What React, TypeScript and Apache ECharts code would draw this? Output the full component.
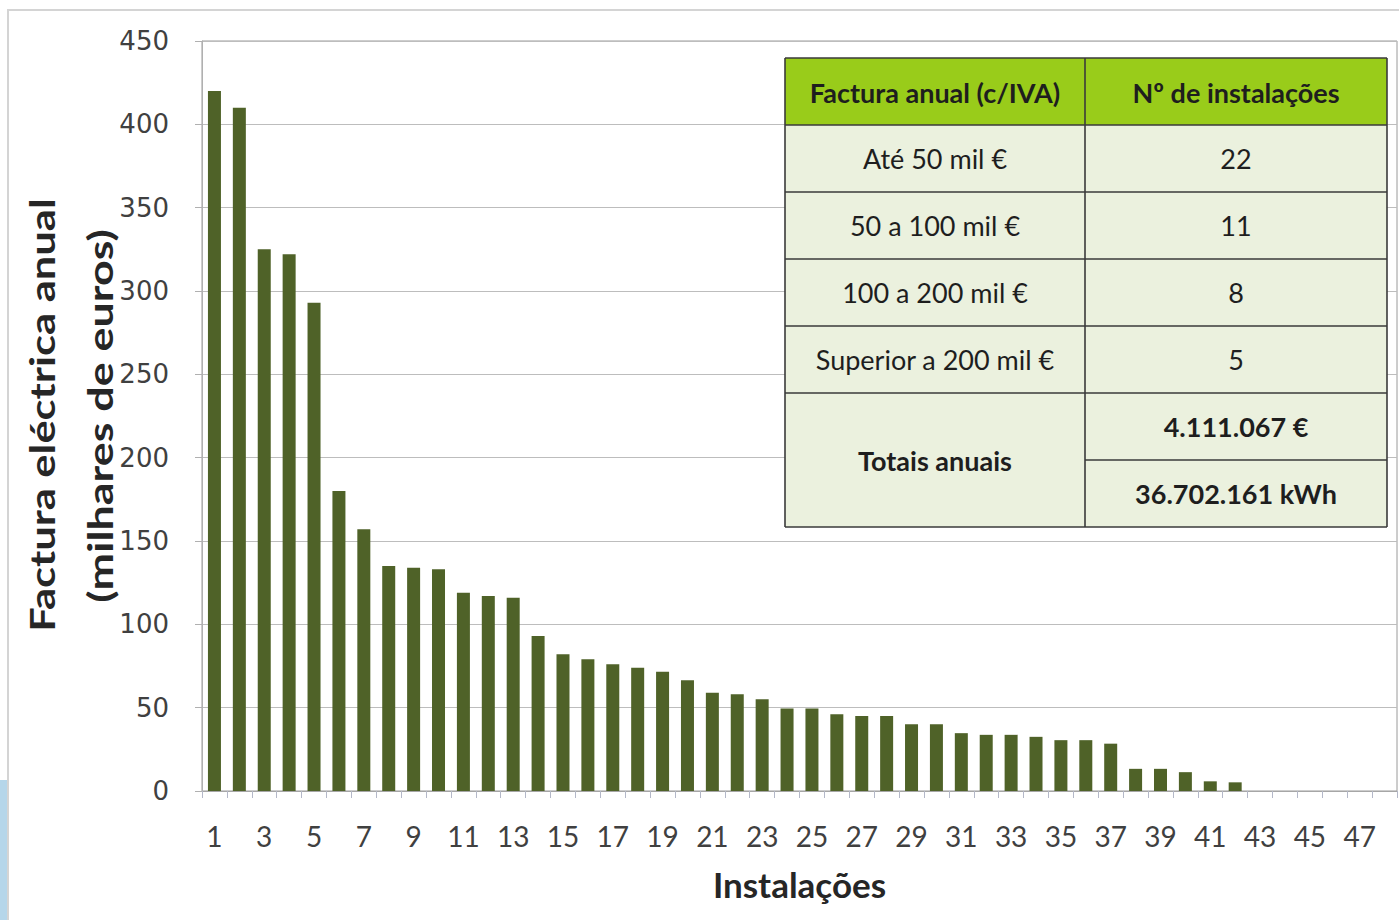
import React, { useEffect, useRef } from "react";
import * as echarts from "echarts";

const categories: string[] = Array.from({ length: 48 }, (_, i) => String(i + 1));
const billValues: number[] = [
  420, 410, 325, 322, 293, 180, 157, 135, 134, 133, 119, 117, 116, 93, 82, 79,
  76, 74, 71.5, 66.5, 59, 58, 55, 49.5, 49.5, 46, 45, 45, 40, 40, 34.7, 33.7,
  33.7, 32.5, 30.5, 30.5, 28.4, 13.3, 13.3, 11.3, 5.8, 5.2, 0, 0, 0, 0, 0, 0,
];
const yTitleLines: string[] = ["Factura eléctrica anual", "(milhares de euros)"];
const xTitle = "Instalações";
const tableHeader: string[] = ["Factura anual (c/IVA)", "Nº de instalações"];
const tableRanges: string[] = ["Até 50 mil €", "50 a 100 mil €", "100 a 200 mil €", "Superior a 200 mil €"];
const tableCounts: string[] = ["22", "11", "8", "5"];
const totalsLabel = "Totais anuais";
const totalsValues: string[] = ["4.111.067 €", "36.702.161 kWh"];

const FONT = "Lato, 'Open Sans', sans-serif";

function buildTable(): any[] {
  const x0 = 785, x1 = 1085, x2 = 1387;
  const rowH = 67;
  const y0 = 58;
  const border = "#3a3a3a";
  const bodyFill = "#ebf1de";
  const headFill = "#99cc1a";
  const els: any[] = [];
  const Z = 100;
  const txt = (x: number, y: number, s: string, bold: boolean) => ({
    type: "text",
    x,
    y,
    z: Z + 2,
    style: {
      text: s,
      fill: "#1e1e1e",
      font: `${bold ? "bold " : ""}27px ${FONT}`,
      align: "center",
      verticalAlign: "middle",
    },
  });
  els.push({ type: "rect", z: Z, shape: { x: x0, y: y0, width: x2 - x0, height: rowH }, style: { fill: headFill } });
  const bodyTop = y0 + rowH;
  const bodyBottom = y0 + rowH * 7;
  els.push({ type: "rect", z: Z, shape: { x: x0, y: bodyTop, width: x2 - x0, height: bodyBottom - bodyTop }, style: { fill: bodyFill } });
  els.push(txt((x0 + x1) / 2, y0 + rowH / 2 + 1, tableHeader[0], true));
  els.push(txt((x1 + x2) / 2, y0 + rowH / 2 + 1, tableHeader[1], true));
  tableRanges.forEach((r, i) => {
    const cy = bodyTop + rowH * i + rowH / 2;
    els.push(txt((x0 + x1) / 2, cy, r, false));
    els.push(txt((x1 + x2) / 2, cy, tableCounts[i], false));
  });
  const totTop = bodyTop + rowH * 4;
  els.push(txt((x0 + x1) / 2, totTop + rowH, totalsLabel, true));
  totalsValues.forEach((v, i) => {
    els.push(txt((x1 + x2) / 2, totTop + rowH * i + rowH / 2, v, true));
  });
  for (let i = 0; i <= 7; i++) {
    const y = y0 + rowH * i;
    const full = i !== 6;
    els.push({
      type: "line",
      z: Z + 1,
      shape: { x1: full ? x0 : x1, y1: y, x2, y2: y },
      style: { stroke: border, lineWidth: 1.6 },
    });
  }
  [x0, x1, x2].forEach((x) => {
    els.push({ type: "line", z: Z + 1, shape: { x1: x, y1: y0, x2: x, y2: bodyBottom }, style: { stroke: border, lineWidth: 1.6 } });
  });
  return els;
}

export default function App() {
  const ref = useRef<HTMLDivElement>(null);
  useEffect(() => {
    if (!ref.current) return;
    const chart = echarts.init(ref.current, undefined, { renderer: "svg" });
    const option: any = {
      animation: false,
      backgroundColor: "#ffffff",
      grid: {
        left: 202,
        right: 2,
        top: 41,
        bottom: 129,
        show: true,
        borderColor: "#9a9a9a",
        borderWidth: 1,
      },
      xAxis: {
        type: "category",
        data: categories,
        boundaryGap: true,
        axisLine: { lineStyle: { color: "#a6a6a6", width: 1 } },
        axisTick: { show: true, interval: 0, length: 7, lineStyle: { color: "#b4b8c8" } },
        axisLabel: {
          interval: 1,
          color: "#404040",
          fontFamily: FONT,
          fontSize: 28,
          margin: 31,
        },
        name: xTitle,
        nameLocation: "middle",
        nameGap: 75,
        nameTextStyle: {
          color: "#262626",
          fontFamily: FONT,
          fontWeight: "bold",
          fontSize: 35,
        },
      },
      yAxis: {
        type: "value",
        min: 0,
        max: 450,
        interval: 50,
        axisLine: { show: true, lineStyle: { color: "#b0b0b0", width: 1 } },
        axisTick: { show: true, length: 7, lineStyle: { color: "#b0b0b0" } },
        axisLabel: {
          color: "#404040",
          fontFamily: "'DejaVu Sans', Verdana, sans-serif",
          fontSize: 26,
          margin: 33,
        },
        splitLine: { lineStyle: { color: "#bdbdbd", width: 1 } },
      },
      series: [
        {
          type: "bar",
          data: billValues,
          barWidth: 13,
          itemStyle: { color: "#4f6228" },
        },
      ],
      graphic: [
        {
          type: "rect",
          shape: { x: 8, y: 10, width: 1500, height: 1000 },
          style: { fill: "none", stroke: "#d4d4d4", lineWidth: 2 },
          silent: true,
        },
        {
          type: "rect",
          shape: { x: 0, y: 780, width: 7, height: 140 },
          style: { fill: "#b5d6ea" },
          silent: true,
        },
        {
          type: "text",
          x: 42,
          y: 415,
          rotation: Math.PI / 2,
          scaleX: 1.28,
          style: {
            text: yTitleLines[0],
            fill: "#262626",
            font: `bold 34px ${FONT}`,
            align: "center",
            verticalAlign: "middle",
          },
        },
        {
          type: "text",
          x: 100,
          y: 416,
          rotation: Math.PI / 2,
          scaleX: 1.32,
          style: {
            text: yTitleLines[1],
            fill: "#262626",
            font: `bold 34px ${FONT}`,
            align: "center",
            verticalAlign: "middle",
          },
        },
        ...buildTable(),
      ],
    };
    chart.setOption(option);
    return () => chart.dispose();
  }, []);
  return (
    <div
      ref={ref}
      style={{ position: "fixed", left: 0, top: 0, width: 1399, height: 920 }}
    />
  );
}
